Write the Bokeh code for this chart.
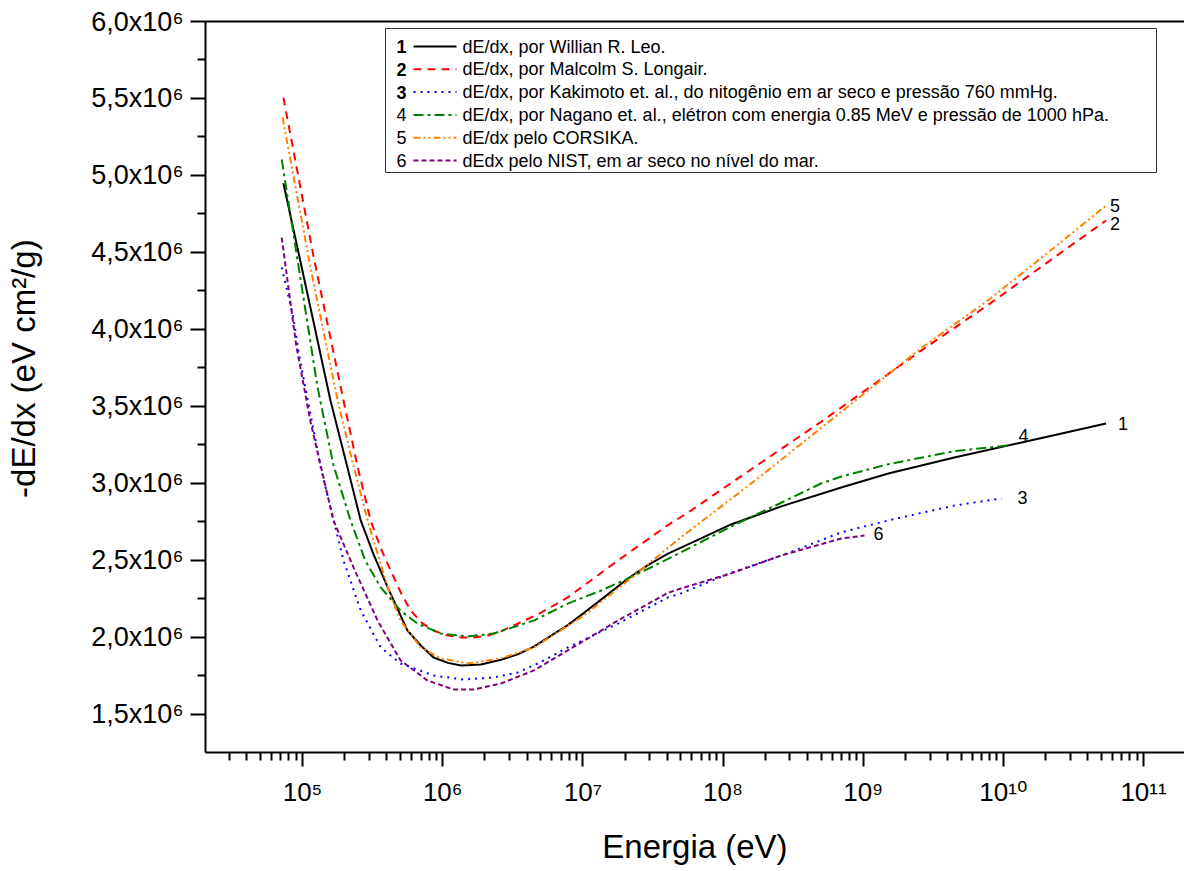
import math
from bokeh.plotting import figure
from bokeh.models import Range1d, FixedTicker, LogAxis, Label, Arrow, BoxAnnotation
from bokeh.embed import file_html
from bokeh.resources import INLINE

FONT = "Liberation Sans"
TICK_FONT = "Liberation Sans, DejaVu Sans"

# ---------------- data ----------------
energy_leo = [7.3e4, 1.14e5, 1.58e5, 2.03e5, 2.6e5, 3.21e5, 4.05e5, 5.6e5, 6.97e5, 8.6e5, 1.09e6,
              1.35e6, 1.87e6, 2.6e6, 3.43e6, 4.47e6, 5.9e6, 7.8e6, 1.02e7, 1.46e7, 2.1e7, 2.91e7,
              4.05e7, 6.97e7, 1.14e8, 2.6e8, 6.97e8, 1.51e9, 4.47e9, 1.35e10, 5.4e10]
dedx_leo = [4.95e6, 4.14e6, 3.54e6, 3.15e6, 2.76e6, 2.54e6, 2.325e6, 2.045e6, 1.948e6, 1.87e6, 1.835e6,
            1.818e6, 1.825e6, 1.855e6, 1.89e6, 1.94e6, 2.01e6, 2.08e6, 2.16e6, 2.27e6, 2.383e6, 2.47e6,
            2.545e6, 2.643e6, 2.734e6, 2.851e6, 2.974e6, 3.065e6, 3.169e6, 3.266e6, 3.39e6]

energy_longair = [7.3e4, 1.2e5, 1.96e5, 2.47e5, 3.06e5, 3.61e5, 4.25e5, 5.0e5, 5.9e5, 7.1e5, 8.6e5,
                  1.06e6, 1.35e6, 1.66e6, 2.1e6, 2.6e6, 3.43e6, 5.0e6, 7.8e6, 1.78e7, 4.05e7, 5.6e7,
                  1.87e8, 5.0e8, 2.6e9, 7.8e9, 2.31e10, 5.4e10]
dedx_longair = [5.506e6, 4.47e6, 3.539e6, 3.11e6, 2.76e6, 2.58e6, 2.435e6, 2.295e6, 2.175e6, 2.095e6, 2.045e6,
                2.015e6, 2.0e6, 2.0e6, 2.013e6, 2.04e6, 2.09e6, 2.16e6, 2.26e6, 2.50e6, 2.73e6, 2.81e6,
                3.136e6, 3.40e6, 3.864e6, 4.16e6, 4.468e6, 4.708e6]

energy_kakimoto = [7.1e4, 8.6e4, 9.4e4, 1.35e5, 1.96e5, 2.6e5, 3.61e5, 5.0e5, 8.6e5, 1.41e6, 2.31e6,
                   3.43e6, 5.0e6, 7.8e6, 1.78e7, 4.05e7, 5.0e7, 1.14e8, 2.6e8, 6.97e8, 1.51e9, 4.47e9,
                   9.7e9]
dedx_kakimoto = [4.403e6, 4.078e6, 3.844e6, 3.10e6, 2.5e6, 2.175e6, 1.935e6, 1.831e6, 1.753e6, 1.727e6, 1.74e6,
                 1.773e6, 1.84e6, 1.935e6, 2.09e6, 2.26e6, 2.286e6, 2.42e6, 2.532e6, 2.682e6, 2.76e6, 2.857e6,
                 2.903e6]

energy_nagano = [7.1e4, 1.28e5, 1.66e5, 2.2e5, 2.8e5, 3.61e5, 5.0e5, 6.6e5, 9.7e5, 1.51e6, 2.31e6,
                 4.47e6, 7.8e6, 1.35e7, 2.31e7, 4.05e7, 6.97e7, 1.14e8, 2.6e8, 5.0e8, 6.97e8,
                 1.51e9, 4.47e9, 1.09e10]
dedx_nagano = [5.104e6, 3.623e6, 3.12e6, 2.76e6, 2.50e6, 2.325e6, 2.175e6, 2.09e6, 2.026e6, 2.006e6, 2.026e6,
               2.11e6, 2.22e6, 2.305e6, 2.40e6, 2.51e6, 2.62e6, 2.72e6, 2.875e6, 3.00e6, 3.045e6,
               3.125e6, 3.21e6, 3.247e6]

energy_corsika = [7.2e4, 1.14e5, 1.78e5, 2.3e5, 2.91e5, 4.05e5, 5.0e5, 6.97e5, 9.7e5, 1.51e6, 2.6e6,
                  4.47e6, 1.02e7, 2.31e7, 5.0e7, 1.87e8, 5.0e8, 2.6e9, 7.8e9, 2.31e10, 5.4e10]
dedx_corsika = [5.377e6, 4.40e6, 3.539e6, 3.12e6, 2.76e6, 2.325e6, 2.11e6, 1.935e6, 1.864e6, 1.831e6, 1.864e6,
                1.935e6, 2.143e6, 2.40e6, 2.65e6, 3.05e6, 3.36e6, 3.88e6, 4.19e6, 4.532e6, 4.805e6]

energy_nist = [7.1e4, 9.0e4, 1.14e5, 1.66e5, 2.31e5, 3.43e5, 5.0e5, 7.8e5, 1.2e6, 1.66e6, 2.6e6,
               4.47e6, 7.8e6, 1.78e7, 4.05e7, 5.0e7, 1.14e8, 2.6e8, 6.97e8, 1.02e9]
dedx_nist = [4.597e6, 3.90e6, 3.40e6, 2.76e6, 2.455e6, 2.11e6, 1.851e6, 1.72e6, 1.662e6, 1.662e6, 1.701e6,
             1.786e6, 1.916e6, 2.11e6, 2.29e6, 2.318e6, 2.416e6, 2.532e6, 2.643e6, 2.662e6]

series_keys = ["1", "2", "3", "4", "5", "6"]
series_names = [
    "dE/dx, por Willian R. Leo.",
    "dE/dx, por Malcolm S. Longair.",
    "dE/dx, por Kakimoto et. al., do nitogênio em ar seco e pressão 760 mmHg.",
    "dE/dx, por Nagano et. al., elétron com energia 0.85 MeV e pressão de 1000 hPa.",
    "dE/dx pelo CORSIKA.",
    "dEdx pelo NIST, em ar seco no nível do mar.",
]
series_x = [energy_leo, energy_longair, energy_kakimoto, energy_nagano, energy_corsika, energy_nist]
series_y = [dedx_leo, dedx_longair, dedx_kakimoto, dedx_nagano, dedx_corsika, dedx_nist]

x_tick_values = [1e5, 1e6, 1e7, 1e8, 1e9, 1e10, 1e11]
x_tick_labels = ["10⁵", "10⁶", "10⁷", "10⁸", "10⁹", "10¹⁰", "10¹¹"]
y_tick_values = [1.5e6, 2.0e6, 2.5e6, 3.0e6, 3.5e6, 4.0e6, 4.5e6, 5.0e6, 5.5e6, 6.0e6]
y_tick_labels = ["1,5x10⁶", "2,0x10⁶", "2,5x10⁶", "3,0x10⁶", "3,5x10⁶",
                 "4,0x10⁶", "4,5x10⁶", "5,0x10⁶", "5,5x10⁶", "6,0x10⁶"]

x_title = "Energia (eV)"
y_title = "-dE/dx (eV cm²/g)"

# ---------------- styles ----------------
colors = ["#000000", "#ff0000", "#0000ff", "#008000", "#ff8000", "#800080"]
dashes = ["solid", "8 6", "2 5", "10 4 3 4", "7 3 2 3 2 3", "5 3"]
key_bold = [True, True, True, False, False, False]
end_dx = [12, 4, 16, 10, 4, 9]
end_dy = [0, -3, 1, 10, 0, 2]

W, H = 1184, 871
LEFT, TOP, BOTTOM = 205, 21, 119

p = figure(width=W, height=H, x_axis_type="log",
           x_range=Range1d(2.03e4, 1.96e11), y_range=Range1d(1.253e6, 6.0e6),
           output_backend="svg", toolbar_location=None,
           min_border_left=LEFT, min_border_right=0, min_border_top=TOP, min_border_bottom=BOTTOM)
p.outline_line_color = None
p.xgrid.grid_line_color = None
p.ygrid.grid_line_color = None
p.background_fill_color = "white"
p.border_fill_color = "white"

minor_x = [m * 10 ** k for k in range(4, 12) for m in range(2, 10)]
xa = p.xaxis[0]
xa.ticker = FixedTicker(ticks=x_tick_values, minor_ticks=minor_x)
xa.major_label_overrides = {v: s for v, s in zip(x_tick_values, x_tick_labels)}
xa.axis_line_width = 2
xa.major_tick_line_width = 2
xa.minor_tick_line_width = 2
xa.major_tick_out = 14
xa.major_tick_in = 0
xa.minor_tick_out = 8
xa.minor_tick_in = 0
xa.major_label_text_font = TICK_FONT
xa.major_label_text_font_size = "26px"
xa.major_label_text_color = "black"
xa.major_label_standoff = 10
xa.axis_label = x_title
xa.axis_label_text_font = FONT
xa.axis_label_text_font_size = "33px"
xa.axis_label_text_font_style = "normal"
xa.axis_label_text_color = "black"
xa.axis_label_standoff = 18

minor_y = [v + 0.25e6 for v in y_tick_values[:-1]]
ya = p.yaxis[0]
ya.ticker = FixedTicker(ticks=y_tick_values, minor_ticks=minor_y)
ya.major_label_overrides = {v: s for v, s in zip(y_tick_values, y_tick_labels)}
ya.axis_line_width = 2
ya.major_tick_line_width = 2
ya.minor_tick_line_width = 2
ya.major_tick_out = 15
ya.major_tick_in = 0
ya.minor_tick_out = 8
ya.minor_tick_in = 0
ya.major_label_text_font = TICK_FONT
ya.major_label_text_font_size = "27px"
ya.major_label_text_color = "black"
ya.major_label_standoff = 7
# leading no-break spaces move the centred title a little towards the top, as in the original
ya.axis_label = "\u00a0\u00a0\u00a0\u00a0" + y_title
ya.axis_label_text_font = FONT
ya.axis_label_text_font_size = "33px"
ya.axis_label_text_font_style = "normal"
ya.axis_label_text_color = "black"
ya.axis_label_standoff = 46

top_axis = LogAxis(ticker=FixedTicker(ticks=[]), axis_line_width=2,
                   major_tick_line_color=None, minor_tick_line_color=None,
                   major_label_text_font_size="0px")
p.add_layout(top_axis, "above")

# curves
for xs, ys, c, d in zip(series_x, series_y, colors, dashes):
    p.line(xs, ys, line_color=c, line_width=2, line_dash=d)

# end-of-curve numbers
for xs, ys, k, dx, dy in zip(series_x, series_y, series_keys, end_dx, end_dy):
    p.add_layout(Label(x=xs[-1], y=ys[-1], text=k, x_offset=dx, y_offset=dy,
                       text_font=FONT, text_font_size="18px", text_color="black",
                       text_align="left", text_baseline="middle"))

# legend (drawn by hand: number, line sample, text)
fb = H - BOTTOM  # image y of frame bottom
p.add_layout(BoxAnnotation(left=385 - LEFT, right=1156 - LEFT, top=fb - 28, bottom=fb - 172,
                           left_units="screen", right_units="screen",
                           top_units="screen", bottom_units="screen",
                           fill_color="white", fill_alpha=1.0,
                           line_color="#333333", line_alpha=1.0, line_width=1))
for i, (k, name, c, d, b) in enumerate(zip(series_keys, series_names, colors, dashes, key_bold)):
    yy = fb - (46 + 22.8 * i)
    p.add_layout(Label(x=401 - LEFT, y=yy, x_units="screen", y_units="screen", text=k,
                       text_font=FONT, text_font_size="18px", text_color="black",
                       text_font_style="bold" if b else "normal",
                       text_align="center", text_baseline="middle"))
    p.add_layout(Arrow(end=None, x_start=413 - LEFT, y_start=yy, x_end=456 - LEFT, y_end=yy,
                       start_units="screen", end_units="screen",
                       line_color=c, line_width=2, line_dash=d))
    p.add_layout(Label(x=462 - LEFT, y=yy, x_units="screen", y_units="screen", text=name,
                       text_font=FONT, text_font_size="18px", text_color="black",
                       text_align="left", text_baseline="middle"))

open("out.html", "w").write(file_html(p, INLINE))
